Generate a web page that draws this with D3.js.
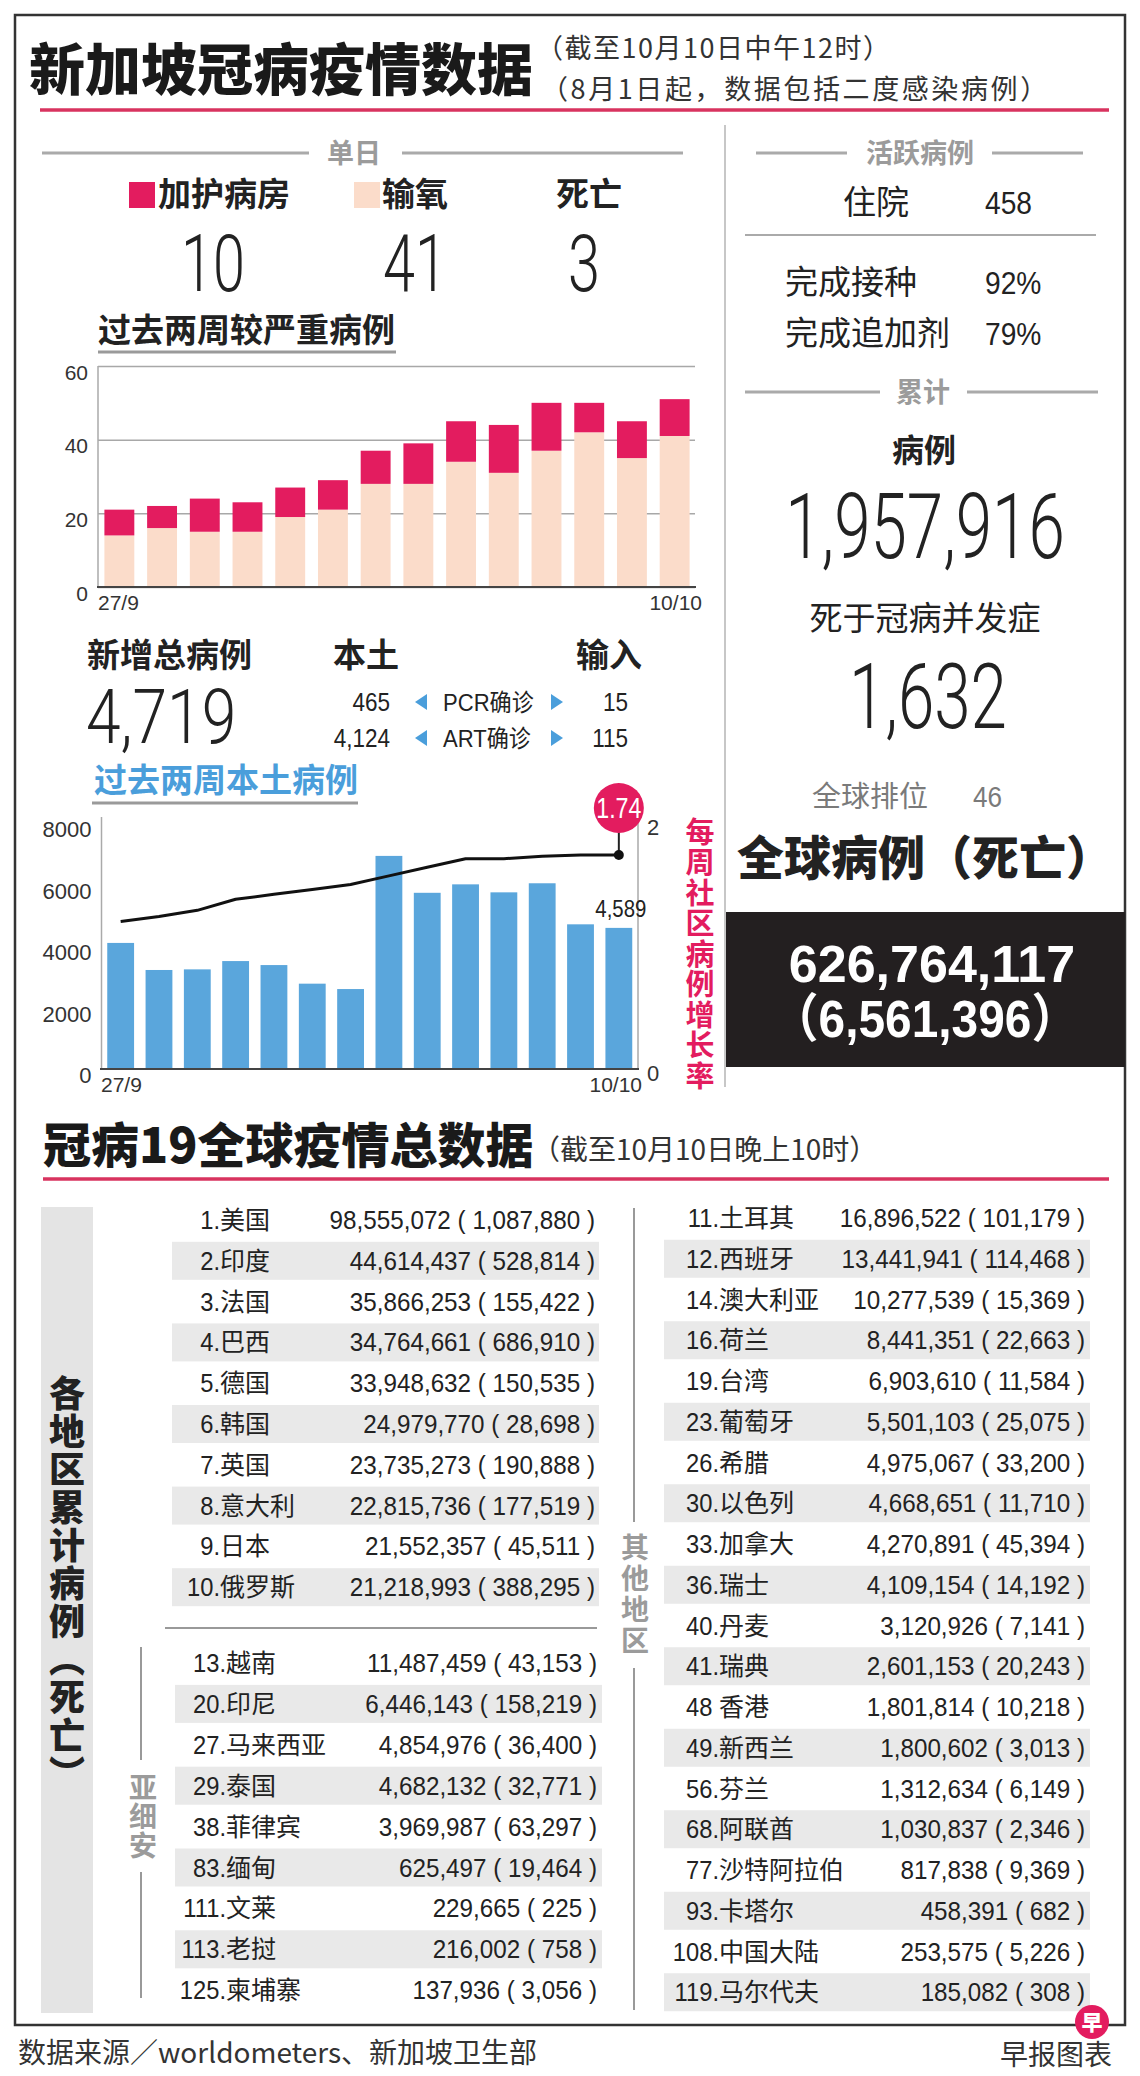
<!DOCTYPE html>
<html><head><meta charset="utf-8">
<script src="https://cdn.jsdelivr.net/npm/d3@7"></script>
<style>body{margin:0;background:#fff}svg{display:block}text{white-space:pre}</style>
</head><body>
<script>
// ---------- DATA ----------
const days = ["27/9","28/9","29/9","30/9","1/10","2/10","3/10","4/10","5/10","6/10","7/10","8/10","9/10","10/10"];
const icuCases = [7,6,9,8,8,8,9,11,11,13,13,8,10,10];
const oxygenCases = [14,16,15,15,19,21,28,28,34,31,37,42,35,41];
const localCases = [4100,3220,3240,3510,3380,2775,2600,6930,5730,6005,5745,6040,4705,4589];
const growthRate = [1.20,1.24,1.29,1.38,1.42,1.46,1.50,1.57,1.64,1.71,1.71,1.73,1.74,1.74];
const severeTicks = [0,20,40,60];
const localTicks = [0,2000,4000,6000,8000];
const rateTicks = [0,2];

const topCountries = [
 ["1.","美国","98,555,072","1,087,880"],["2.","印度","44,614,437","528,814"],
 ["3.","法国","35,866,253","155,422"],["4.","巴西","34,764,661","686,910"],
 ["5.","德国","33,948,632","150,535"],["6.","韩国","24,979,770","28,698"],
 ["7.","英国","23,735,273","190,888"],["8.","意大利","22,815,736","177,519"],
 ["9.","日本","21,552,357","45,511"],["10.","俄罗斯","21,218,993","388,295"]];
const aseanCountries = [
 ["13.","越南","11,487,459","43,153"],["20.","印尼","6,446,143","158,219"],
 ["27.","马来西亚","4,854,976","36,400"],["29.","泰国","4,682,132","32,771"],
 ["38.","菲律宾","3,969,987","63,297"],["83.","缅甸","625,497","19,464"],
 ["111.","文莱","229,665","225"],["113.","老挝","216,002","758"],
 ["125.","柬埔寨","137,936","3,056"]];
const otherCountries = [
 ["11.","土耳其","16,896,522","101,179"],["12.","西班牙","13,441,941","114,468"],
 ["14.","澳大利亚","10,277,539","15,369"],["16.","荷兰","8,441,351","22,663"],
 ["19.","台湾","6,903,610","11,584"],["23.","葡萄牙","5,501,103","25,075"],
 ["26.","希腊","4,975,067","33,200"],["30.","以色列","4,668,651","11,710"],
 ["33.","加拿大","4,270,891","45,394"],["36.","瑞士","4,109,154","14,192"],
 ["40.","丹麦","3,120,926","7,141"],["41.","瑞典","2,601,153","20,243"],
 ["48\u00a0","香港","1,801,814","10,218"],["49.","新西兰","1,800,602","3,013"],
 ["56.","芬兰","1,312,634","6,149"],["68.","阿联酋","1,030,837","2,346"],
 ["77.","沙特阿拉伯","817,838","9,369"],["93.","卡塔尔","458,391","682"],
 ["108.","中国大陆","253,575","5,226"],["119.","马尔代夫","185,082","308"]];

// ---------- STYLE ----------
const CJK = "'Noto Sans CJK SC','Noto Sans',sans-serif";
const NUM = "'Liberation Sans',Arial,'Noto Sans CJK SC',sans-serif";
const LIGHT = "Roboto,'Liberation Sans',sans-serif";
const PINK = "#e31c5f", BEIGE = "#fbdcca", BLUE = "#5aa6dc", BLUE_T = "#4a9edb";
const GRAY = "#9b9b9b";

const W = 1140, H = 2076;
const svg = d3.select("body").append("svg").attr("width", W).attr("height", H);
svg.append("rect").attr("width", W).attr("height", H).attr("fill", "#fff");

function T(g, x, y, txt, o = {}) {
  const fs = o.size || 25;
  const t = g.append("text")
    .attr("transform", `translate(${x},${y + fs * (o.dyc ?? 0.36)}) scale(${o.sx || 1},1)`)
    .attr("text-anchor", o.anchor || "start")
    .attr("font-family", o.family || CJK)
    .attr("font-size", fs)
    .attr("font-weight", o.weight || 400)
    .attr("fill", o.fill || "#222")
    .text(txt);
  if (o.ls) t.attr("letter-spacing", o.ls);
  return t;
}
function L(g, x1, y1, x2, y2, c, w) {
  g.append("line").attr("x1", x1).attr("y1", y1).attr("x2", x2).attr("y2", y2)
    .attr("stroke", c).attr("stroke-width", w);
}
// vertical text (one element), x = column centre, yTop = top of first glyph
function V(g, x, yTop, step, txt, o) {
  g.append("text").attr("x", x).attr("y", yTop)
    .style("writing-mode", "vertical-rl").style("text-orientation", "upright")
    .attr("font-family", CJK).attr("font-size", o.size).attr("font-weight", o.weight || 400)
    .attr("fill", o.fill || "#222").attr("letter-spacing", step - o.size)
    .text(txt);
}
function header(g, cx, y, txt, x1, x2, x3, x4) {
  L(g, x1, y, x2, y, "#aaa", 3); L(g, x3, y, x4, y, "#aaa", 3);
  T(g, cx, y, txt, {anchor: "middle", size: 27, weight: 700, fill: GRAY});
}

const g = svg.append("g");
g.append("rect").attr("x", 15).attr("y", 15).attr("width", 1110).attr("height", 2010)
  .attr("fill", "none").attr("stroke", "#333").attr("stroke-width", 2.5);

// ---------- TITLE ----------
T(g, 29, 70, "新加坡冠病疫情数据", {size: 56, weight: 900, fill: "#1a1a1a"});
T(g, 536, 48, "（截至10月10日中午12时）", {size: 27, fill: "#333", ls: 1.5});
T(g, 541, 89, "（8月1日起，数据包括二度感染病例）", {size: 27, fill: "#333", ls: 2.6});
L(g, 40, 110, 1109, 110, "#d8335f", 3.5);
L(g, 725, 125, 725, 1087, "#b5b5b5", 1.5);

// ---------- SINGLE DAY ----------
header(g, 354, 153, "单日", 42, 309, 402, 683);
g.append("rect").attr("x", 129).attr("y", 182).attr("width", 26).attr("height", 26).attr("fill", PINK);
T(g, 158, 194, "加护病房", {size: 33, weight: 700});
g.append("rect").attr("x", 354).attr("y", 182).attr("width", 26).attr("height", 26).attr("fill", BEIGE);
T(g, 382, 194, "输氧", {size: 33, weight: 700});
T(g, 556, 194, "死亡", {size: 33, weight: 700});
const lastIcu = icuCases[icuCases.length - 1], lastOxy = oxygenCases[oxygenCases.length - 1];
T(g, 213, 262, String(lastIcu), {size: 80, family: LIGHT, weight: 300, anchor: "middle", sx: 0.72});
T(g, 415, 262, String(lastOxy), {size: 80, family: LIGHT, weight: 300, anchor: "middle", sx: 0.72});
T(g, 584, 262, "3", {size: 80, family: LIGHT, weight: 300, anchor: "middle", sx: 0.72});

T(g, 98, 330, "过去两周较严重病例", {size: 33, weight: 700});
L(g, 98, 352, 396, 352, "#9a9a9a", 3);

// ---------- CHART 1 ----------
{
  const x = d3.scaleBand().domain(days).range([98, 696]).paddingInner(0.3).paddingOuter(0.15);
  const y = d3.scaleLinear().domain([0, 60]).range([587, 366]);
  const c = g.append("g");
  const ax = c.append("g").attr("transform", "translate(98,0)")
    .call(d3.axisLeft(y).tickValues(severeTicks).tickFormat(d3.format("d")).tickSize(-(695 - 98)).tickPadding(10));
  ax.select(".domain").remove();
  ax.selectAll(".tick line").attr("stroke", "#a8a8a8").attr("stroke-width", 1.5);
  ax.selectAll(".tick text").attr("font-family", NUM).attr("font-size", 21).attr("fill", "#333").attr("dy", "0.62em");
  L(c, 98, 366, 98, 587, "#aaa", 1.5);
  const stacked = days.map((d, i) => ({d, oxy: oxygenCases[i], icu: icuCases[i]}));
  c.selectAll(".oxy").data(stacked).join("rect").attr("class", "oxy")
    .attr("x", d => x(d.d)).attr("width", x.bandwidth())
    .attr("y", d => y(d.oxy)).attr("height", d => y(0) - y(d.oxy)).attr("fill", BEIGE);
  c.selectAll(".icu").data(stacked).join("rect").attr("class", "icu")
    .attr("x", d => x(d.d)).attr("width", x.bandwidth())
    .attr("y", d => y(d.oxy + d.icu)).attr("height", d => y(d.oxy) - y(d.oxy + d.icu)).attr("fill", PINK);
  L(c, 97, 587, 696, 587, "#444", 2);
  const bx = c.append("g").attr("transform", "translate(0,587)")
    .call(d3.axisBottom(x).tickValues([days[0], days[days.length - 1]]).tickSize(0).tickPadding(8));
  bx.select(".domain").remove();
  bx.selectAll(".tick text").attr("font-family", NUM).attr("font-size", 21).attr("fill", "#333")
    .attr("text-anchor", (d, i) => i === 0 ? "start" : "end")
    .attr("x", (d, i) => i === 0 ? 98 - x(d) - x.bandwidth() / 2 : 702 - x(d) - x.bandwidth() / 2);
}

// ---------- NEW CASES ----------
T(g, 87, 655, "新增总病例", {size: 33, weight: 700});
T(g, 86, 716, "4,719", {size: 76, family: LIGHT, weight: 300, sx: 0.82});
T(g, 333, 655, "本土", {size: 33, weight: 700});
T(g, 576, 655, "输入", {size: 33, weight: 700});
T(g, 390, 702, "465", {size: 25, family: NUM, anchor: "end", sx: 0.9});
T(g, 390, 738, "4,124", {size: 25, family: NUM, anchor: "end", sx: 0.9});
T(g, 443, 702, "PCR确诊", {size: 24, family: NUM, sx: 0.92});
T(g, 443, 738, "ART确诊", {size: 24, family: NUM, sx: 0.92});
T(g, 628, 702, "15", {size: 25, family: NUM, anchor: "end", sx: 0.9});
T(g, 628, 738, "115", {size: 25, family: NUM, anchor: "end", sx: 0.9});
[702, 738].forEach(yy => {
  g.append("path").attr("d", `M415,${yy} L427,${yy - 8} L427,${yy + 8} Z`).attr("fill", BLUE_T);
  g.append("path").attr("d", `M563,${yy} L551,${yy - 8} L551,${yy + 8} Z`).attr("fill", BLUE_T);
});
T(g, 94, 780, "过去两周本土病例", {size: 33, weight: 700, fill: BLUE_T});
L(g, 92, 803, 358, 803, "#9a9a9a", 3);

// ---------- CHART 2 ----------
{
  const x = d3.scaleBand().domain(days).range([101.5, 638]).paddingInner(0.3).paddingOuter(0.15);
  const y = d3.scaleLinear().domain([0, 8000]).range([1069, 823]);
  const yR = d3.scaleLinear().domain([0, 2]).range([1069, 823]);
  const c = g.append("g");
  const ax = c.append("g").attr("transform", "translate(101.5,0)")
    .call(d3.axisLeft(y).tickValues(localTicks).tickFormat(d3.format("d")).tickSize(0).tickPadding(10));
  ax.select(".domain").remove();
  ax.selectAll(".tick text").attr("font-family", NUM).attr("font-size", 22).attr("fill", "#333").attr("dy", "0.62em");
  L(c, 101.5, 817, 101.5, 1069, "#aaa", 1.5);
  L(c, 638, 817, 638, 1069, "#aaa", 1.5);
  const ar = c.append("g").attr("transform", "translate(638,0)")
    .call(d3.axisRight(yR).tickValues(rateTicks).tickFormat(d3.format("d")).tickSize(0).tickPadding(9));
  ar.select(".domain").remove();
  ar.selectAll(".tick text").attr("font-family", NUM).attr("font-size", 22).attr("fill", "#333").attr("dy", "0.5em");
  c.selectAll(".loc").data(localCases).join("rect").attr("class", "loc")
    .attr("x", (d, i) => x(days[i])).attr("width", x.bandwidth())
    .attr("y", d => y(d)).attr("height", d => y(0) - y(d)).attr("fill", BLUE);
  L(c, 100, 1069, 639, 1069, "#444", 2);
  const bx = c.append("g").attr("transform", "translate(0,1069)")
    .call(d3.axisBottom(x).tickValues([days[0], days[days.length - 1]]).tickSize(0).tickPadding(8));
  bx.select(".domain").remove();
  bx.selectAll(".tick text").attr("font-family", NUM).attr("font-size", 21).attr("fill", "#333")
    .attr("text-anchor", (d, i) => i === 0 ? "start" : "end")
    .attr("x", (d, i) => i === 0 ? 101 - x(d) - x.bandwidth() / 2 : 642 - x(d) - x.bandwidth() / 2);
  const cx = i => x(days[i]) + x.bandwidth() / 2;
  c.append("path").datum(growthRate)
    .attr("d", d3.line().x((d, i) => cx(i)).y(d => yR(d)))
    .attr("fill", "none").attr("stroke", "#111").attr("stroke-width", 3).attr("stroke-linejoin", "round");
  const li = growthRate.length - 1;
  const lx = cx(li), ly = yR(growthRate[li]);
  L(c, lx, ly, lx, 830, "#222", 2);
  c.append("circle").attr("cx", lx).attr("cy", ly).attr("r", 5).attr("fill", "#111");
  c.append("circle").attr("cx", lx).attr("cy", 808).attr("r", 25).attr("fill", PINK);
  T(c, lx, 808, d3.format(".2f")(growthRate[li]), {size: 29, family: NUM, anchor: "middle", fill: "#fff", sx: 0.8});
  const lv = localCases[li];
  T(c, cx(li) + 2, y(lv) - 20, d3.format(",")(lv), {size: 24, family: NUM, anchor: "middle", sx: 0.85});
  V(c, 700, 817, 30.5, "每周社区病例增长率", {size: 29, weight: 700, fill: PINK});
}

// ---------- RIGHT COLUMN ----------
header(g, 920, 153, "活跃病例", 756, 847, 992, 1083);
T(g, 843, 202, "住院", {size: 33});
T(g, 985, 202, "458", {size: 32, family: NUM, sx: 0.88});
L(g, 745, 235, 1096, 235, "#aaa", 2);
T(g, 785, 282, "完成接种", {size: 33});
T(g, 985, 282, "92%", {size: 32, family: NUM, sx: 0.88});
T(g, 785, 333, "完成追加剂", {size: 33});
T(g, 985, 333, "79%", {size: 32, family: NUM, sx: 0.88});
header(g, 923, 392, "累计", 745, 880, 967, 1098);
T(g, 924, 450, "病例", {size: 32, weight: 700, anchor: "middle"});
T(g, 925, 525, "1,957,916", {size: 91, family: LIGHT, weight: 300, anchor: "middle", sx: 0.72});
T(g, 925, 618, "死于冠病并发症", {size: 33, anchor: "middle"});
T(g, 928, 695, "1,632", {size: 91, family: LIGHT, weight: 300, anchor: "middle", sx: 0.72});
T(g, 812, 797, "全球排位", {size: 29, fill: "#7a7a7a"});
T(g, 973, 797, "46", {size: 29, family: NUM, fill: "#7a7a7a", sx: 0.9});
T(g, 925, 858, "全球病例（死亡）", {size: 47, weight: 900, anchor: "middle"});
g.append("rect").attr("x", 726).attr("y", 912).attr("width", 399).attr("height", 155).attr("fill", "#231f20");
T(g, 932, 963, "626,764,117", {size: 52, family: NUM, weight: 700, anchor: "middle", fill: "#fff"});
T(g, 925, 1018, "（6,561,396）", {size: 52, family: NUM, weight: 700, anchor: "middle", fill: "#fff", sx: 0.92});

// ---------- GLOBAL TABLE ----------
T(g, 43, 1146, "冠病19全球疫情总数据", {size: 48, weight: 900, fill: "#1a1a1a"});
T(g, 532, 1150, "（截至10月10日晚上10时）", {size: 28, fill: "#333"});
L(g, 43, 1179, 1109, 1179, "#d8335f", 3.5);

g.append("rect").attr("x", 41).attr("y", 1207).attr("width", 52).attr("height", 806).attr("fill", "#e4e4e4");
V(g, 67, 1375, 38, "各地区累计病例（死亡）", {size: 36, weight: 900, fill: "#222"});

function table(rows, y0, step, xShade0, xShade1, xName, xNum) {
  const tg = g.append("g");
  tg.selectAll("rect").data(rows).join("rect")
    .attr("x", xShade0).attr("width", xShade1 - xShade0)
    .attr("y", (d, i) => y0 + i * step - 19).attr("height", 38)
    .attr("fill", (d, i) => (i % 2 === 1) ? "#e9e9e9" : "none");
  rows.forEach((r, i) => {
    const yy = y0 + i * step;
    T(tg, xName, yy, r[0], {size: 25, family: NUM, anchor: "end", sx: 0.95});
    T(tg, xName, yy, r[1], {size: 25});
    T(tg, xNum, yy, `${r[2]} ( ${r[3]} )`, {size: 25, family: NUM, anchor: "end", sx: 0.97});
  });
}
table(topCountries, 1220, 40.8, 172, 599, 220, 595);
L(g, 165, 1628, 597, 1628, "#777", 1.5);
table(aseanCountries, 1663, 40.9, 175, 602, 226, 597);
table(otherCountries, 1218, 40.75, 664, 1090, 719, 1085);

L(g, 141, 1647, 141, 1760, "#999", 2);
L(g, 141, 1872, 141, 1998, "#999", 2);
V(g, 143, 1773, 29, "亚细安", {size: 28, weight: 700, fill: GRAY});
L(g, 634, 1208, 634, 1522, "#999", 2);
L(g, 634, 1668, 634, 2010, "#999", 2);
V(g, 635, 1533, 31, "其他地区", {size: 28, weight: 700, fill: GRAY});

// ---------- FOOTER ----------
T(g, 18, 2053, "数据来源／worldometers、新加坡卫生部", {size: 28, fill: "#333"});
T(g, 1112, 2055, "早报图表", {size: 28, anchor: "end", fill: "#333"});
g.append("circle").attr("cx", 1092).attr("cy", 2022).attr("r", 17).attr("fill", PINK);
T(g, 1092, 2022, "早", {size: 21, weight: 900, anchor: "middle", fill: "#fff"});
</script>
</body></html>
